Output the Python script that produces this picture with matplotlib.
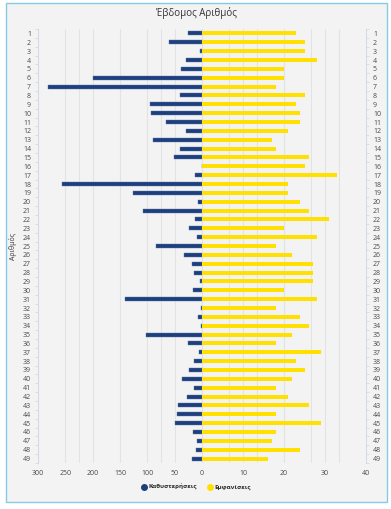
import matplotlib
matplotlib.use("Agg")
import matplotlib.pyplot as plt
from matplotlib.patches import Rectangle
from matplotlib.lines import Line2D
from matplotlib.transforms import blended_transform_factory

numbers = list(range(1, 50))
delays = [26, 60, 4, 29, 38, 199, 281, 41, 95, 94,
          66, 29, 89, 40, 51, 0, 13, 256, 127, 7,
          108, 12, 23, 9, 84, 33, 18, 15, 4, 17,
          140, 2, 7, 1, 103, 25, 5, 15, 24, 36,
          14, 28, 43, 46, 49, 17, 9, 11, 19]
appearances = [23, 25, 25, 28, 20, 20, 18, 25, 23, 24,
               24, 21, 17, 18, 26, 25, 33, 21, 21, 24,
               26, 31, 20, 28, 18, 22, 27, 27, 27, 20,
               28, 18, 24, 26, 22, 18, 29, 23, 25, 22,
               18, 21, 26, 18, 29, 18, 17, 24, 16]
delay_ticks = [300, 250, 200, 150, 100, 50, 0]
app_ticks = [10, 20, 30, 40]
title = "Έβδομος Αριθμός"
ylabel = "Αριθμός"
series_names = ["Καθυστερήσεις", "Εμφανίσεις"]

BLUE = "#1d3f7e"
YELLOW = "#ffe000"
BG = "#f3f3f3"
GRID = "#e3e3e3"
TXT = "#4a4a4a"

plt.rcParams['font.family'] = ['Open Sans', 'DejaVu Sans']

W, H = 391, 509
fig = plt.figure(figsize=(W / 100, H / 100), dpi=100)
fig.patch.set_facecolor("white")
fig.patches.append(Rectangle((5.5 / W, 1 - 502 / H), 381 / W, 499 / H,
                             transform=fig.transFigure, facecolor=BG,
                             edgecolor="#86cbe6", linewidth=1.0, zorder=-5))

left, right, top, bottom = 38, 366, 29, 463
axL = fig.add_axes([left / W, 1 - bottom / H, (right - left) / W, (bottom - top) / H])
axL.patch.set_visible(False)
axL.set_xlim(-300, 300)
axR = axL.twiny()
axR.set_xlim(-40, 40)
axR.patch.set_visible(False)

ypos = list(range(len(numbers)))
axL.barh(ypos, [-d for d in delays], height=0.45, color=BLUE, zorder=3,
         edgecolor="#5d78a8", linewidth=0.3)
axR.barh(ypos, appearances, height=0.45, color=YELLOW, zorder=3)
axL.set_ylim(len(numbers) - 0.5, -0.5)

# gridlines (both scales), under the bars
for x in range(-250, 300, 50):
    axL.axvline(x, color=GRID, lw=0.8, zorder=0)
btr = blended_transform_factory(axR.transData, axL.transAxes)
for x in range(-30, 40, 10):
    axL.plot([x, x], [0, 1], transform=btr, color=GRID, lw=0.8, zorder=0)

# x ticks
axL.set_xticks([-t for t in delay_ticks])
axL.set_xticklabels([str(t) for t in delay_ticks])
axR.set_xticks(app_ticks)
axR.set_xticklabels([str(t) for t in app_ticks])
axR.xaxis.set_ticks_position('bottom')
axR.xaxis.set_label_position('bottom')
for ax in (axL, axR):
    ax.tick_params(axis='x', length=0, labelsize=5, colors=TXT, pad=5)
    for s in ax.spines.values():
        s.set_visible(False)

# y ticks
axL.set_yticks(ypos)
axL.set_yticklabels([str(n) for n in numbers])
axL.tick_params(axis='y', which='major', length=0, labelsize=5, colors=TXT,
                labelleft=True, labelright=True, pad=5)
axL.set_yticks([y + 0.5 for y in [-1] + ypos], minor=True)
axL.tick_params(axis='y', which='minor', length=2.5, width=0.6, color="#d5dbe5",
                left=True, right=True)
for side in ("left", "right"):
    axL.spines[side].set_visible(True)
    axL.spines[side].set_color("#d5dbe5")
    axL.spines[side].set_linewidth(0.8)

axL.set_ylabel(ylabel, fontsize=5, color="#333333")
axL.yaxis.set_label_coords((17 - left) / (right - left), 0.5)
fig.text(196 / W, 1 - 13 / H, title, ha="center", va="center", fontsize=7, color="#333333")

handles = [Line2D([], [], marker='o', linestyle='none', markersize=4, color=BLUE),
           Line2D([], [], marker='o', linestyle='none', markersize=4, color=YELLOW)]
leg = fig.legend(handles, series_names, loc="center", bbox_to_anchor=(196 / W, 1 - 487 / H),
                 ncol=2, frameon=False, handletextpad=0.3, columnspacing=1.5,
                 handlelength=1.0, prop={'size': 4.5, 'weight': 'bold'})
for t in leg.get_texts():
    t.set_color("#2a2a2a")

fig.savefig("out.png", dpi=100, facecolor="white")
